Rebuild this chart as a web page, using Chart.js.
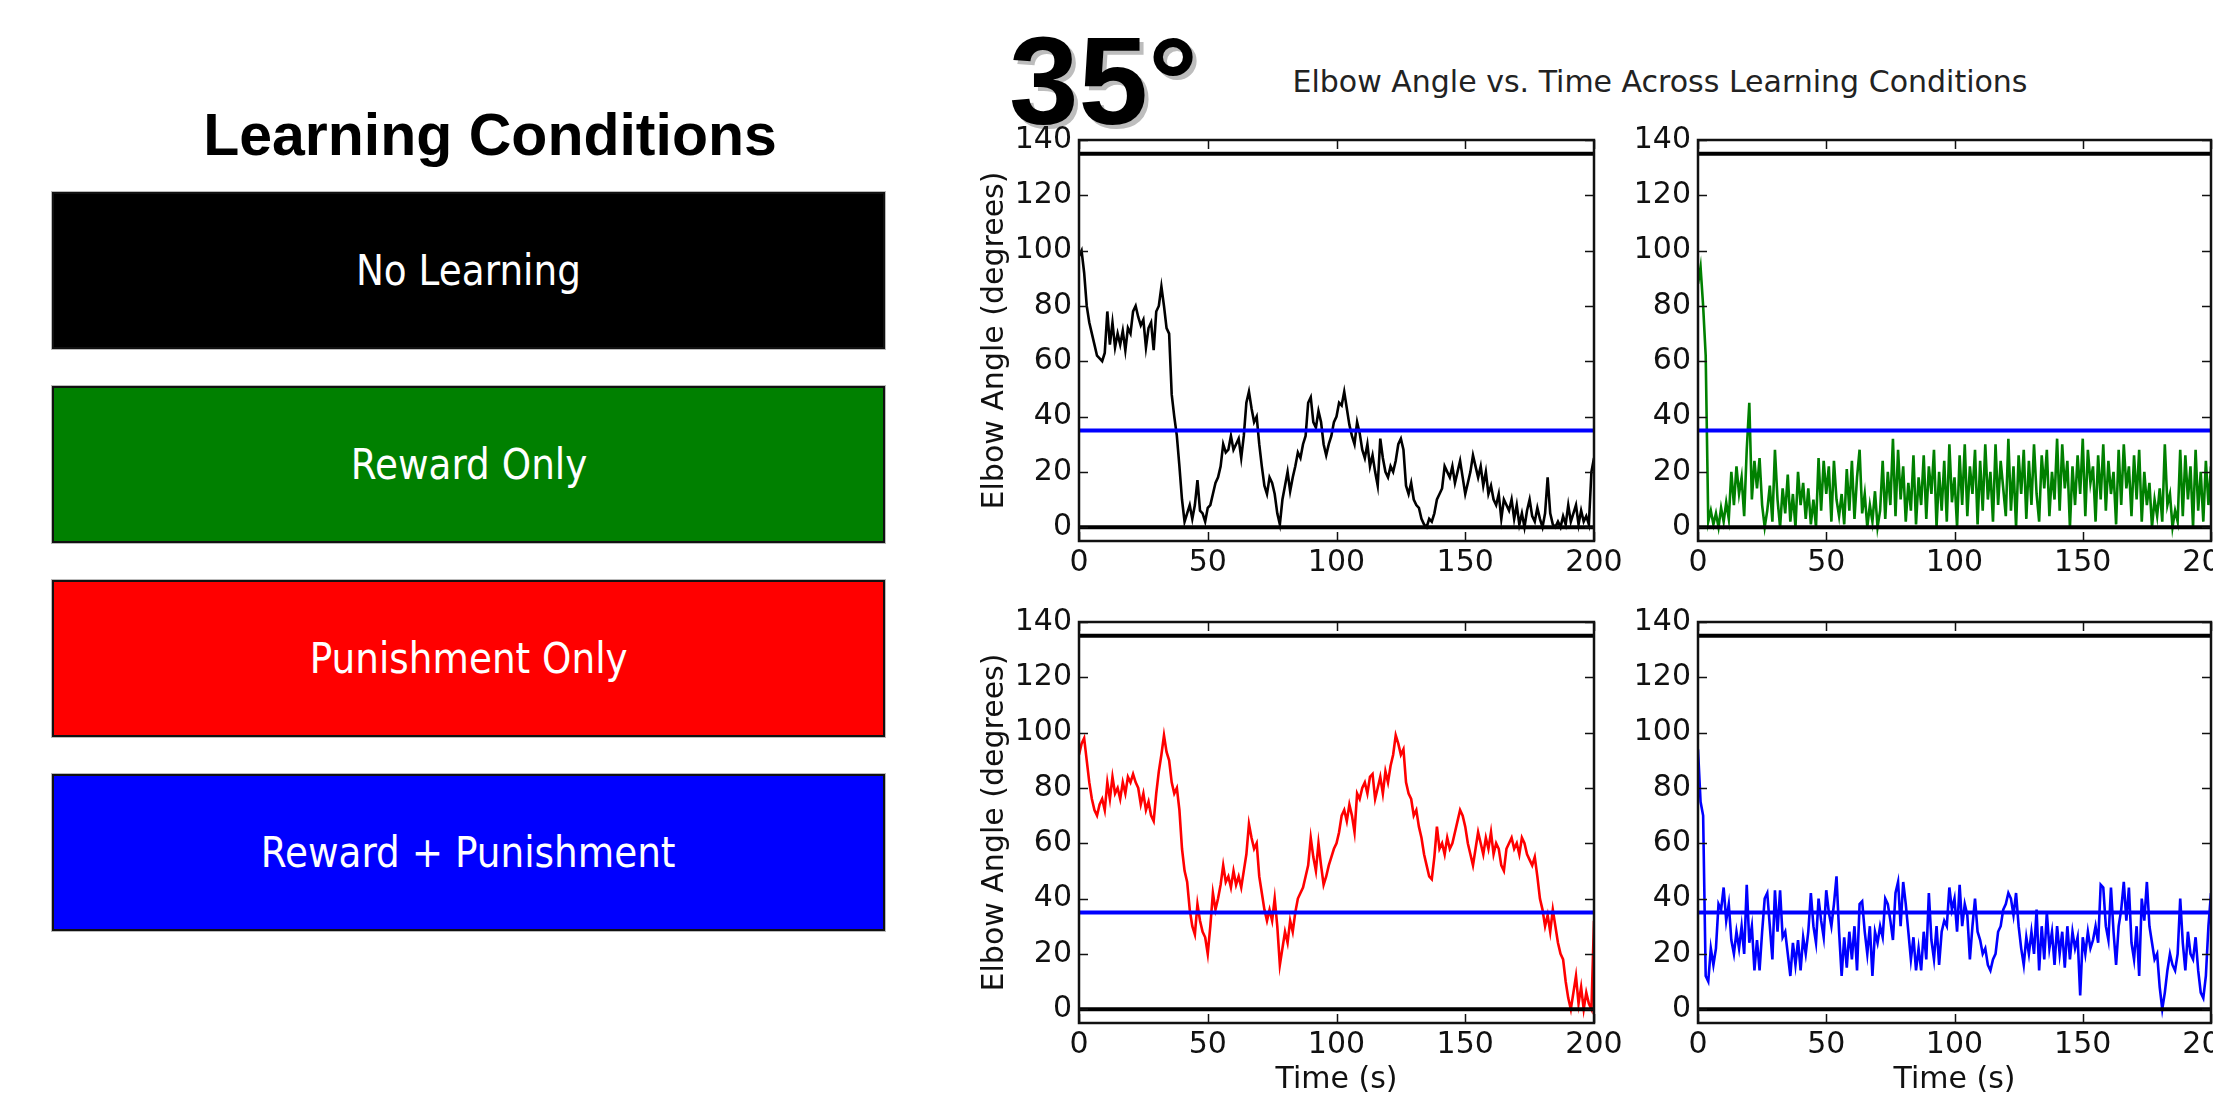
<!DOCTYPE html>
<html>
<head>
<meta charset="utf-8">
<title>Elbow Angle vs. Time Across Learning Conditions</title>
<script src="https://cdn.jsdelivr.net/npm/chart.js@4.4.1/dist/chart.umd.min.js"></script>
<style>
  html, body { margin: 0; padding: 0; background: #fff; }
  body { width: 2213px; height: 1095px; position: relative; overflow: hidden; }
  .abs { position: absolute; }
  #legendTitle {
    left: 0; width: 980px; top: 106px; text-align: center;
    font: bold 59px "Liberation Sans", Arial, sans-serif; line-height: 59px; color: #000;
  }
  .condition {
    position: absolute; left: 52px; width: 833px; height: 157px; box-sizing: border-box;
    border: 2px solid #111; box-shadow: 0 0 0 1px #bbb;
    display: flex; align-items: center; justify-content: center;
  }
  .condition span {
    display: inline-block; color: #fff; font: 42px "DejaVu Sans", sans-serif;
    transform: scaleX(0.89); white-space: nowrap;
  }
  #target {
    left: 1009px; top: 18px; font: bold 125px "Liberation Sans", Arial, sans-serif;
    line-height: 125px; color: #000; text-shadow: 4px 4px 0 #bdbdbd;
  }
  #figTitle {
    left: 1160px; width: 1000px; top: 67px; text-align: center;
    font: 30px "DejaVu Sans", sans-serif; line-height: 30px; color: #222;
  }
  canvas { position: absolute; }
</style>
</head>
<body>
<div id="legendTitle" class="abs">Learning Conditions</div>
<div id="legend"></div>
<div id="target" class="abs">35°</div>
<div id="figTitle" class="abs">Elbow Angle vs. Time Across Learning Conditions</div>
<canvas id="c0" width="675" height="531" style="left:959px;top:110px"></canvas>
<canvas id="c1" width="673" height="531" style="left:1578px;top:110px"></canvas>
<canvas id="c2" width="675" height="531" style="left:959px;top:592px"></canvas>
<canvas id="c3" width="673" height="531" style="left:1578px;top:592px"></canvas>
<script>
// learning conditions and their colours
const conditions = ['No Learning', 'Reward Only', 'Punishment Only', 'Reward + Punishment'];
const condColours = ['#000000', '#008000', '#ff0000', '#0000ff'];

// axis ticks
const xTicks = [0, 50, 100, 150, 200];
const yTicks = [0, 20, 40, 60, 80, 100, 120, 140];
const xRange = [0, 200];
const yRange = [-5, 140];

// reference lines (degrees)
const targetAngle = 35;
const jointLimits = [0, 135];

// elbow angle, one reading per second, t = 0..200 s
const SAMPLE_STEP = 1;
const noLearning = [
  98,100,92,80,74,70,66,62,61,60,
  63,78,66,74,65,70,66,71,64,72,
  70,78,80,76,73,75,65,72,74,64,
  78,80,87,80,72,70,48,40,33,22,
  10,2,5,8,3,8,17,6,5,2,
  7,8,12,16,18,22,30,27,28,33,
  28,30,32,25,33,45,49,43,38,40,
  30,22,15,12,18,16,12,5,1,10,
  15,20,13,18,22,27,25,30,33,45,
  47,38,36,42,38,30,26,30,33,38,
  40,45,44,49,43,37,33,30,38,34,
  28,25,30,22,26,20,15,32,25,20,
  18,22,20,24,30,32,28,15,12,16,
  10,8,7,3,1,0,3,2,5,10,
  12,14,22,20,18,22,16,20,24,18,
  12,16,20,26,22,18,22,15,20,12,
  15,10,8,12,3,10,8,6,10,3,
  8,1,5,0,6,10,4,2,7,3,
  0,5,18,5,1,0,2,0,4,1,
  8,2,5,8,1,6,2,4,1,20,
  25
];
const rewardOnly = [
  88,94,80,62,2,6,1,5,0,7,
  2,9,3,20,8,22,12,18,4,28,
  45,10,24,14,25,8,0,6,15,2,
  28,10,0,14,5,19,2,12,0,20,
  8,16,3,14,1,10,0,25,6,24,
  12,22,2,24,10,4,12,1,21,6,
  24,3,18,28,5,12,0,8,2,13,
  0,6,24,3,20,8,32,4,28,10,
  22,2,16,6,26,1,18,8,26,3,
  22,12,28,0,20,6,24,2,30,9,
  18,0,26,8,30,4,22,12,28,1,
  24,6,30,10,20,2,30,8,24,14,
  4,32,6,22,0,26,12,28,3,24,
  8,30,12,2,26,14,28,4,20,10,
  32,6,30,14,24,0,22,8,26,12,
  32,4,28,16,22,2,26,10,30,6,
  24,12,20,1,28,8,30,14,22,4,
  26,10,28,2,20,8,16,0,10,4,
  14,2,30,8,12,0,6,2,28,4,
  26,10,22,0,28,6,20,2,24,8,
  22
];
const punishmentOnly = [
  92,96,98,90,82,76,72,70,74,76,
  72,82,76,84,78,80,76,82,78,84,
  82,85,82,80,74,78,72,75,70,68,
  78,86,92,99,93,90,82,78,80,72,
  58,50,46,36,30,27,38,32,28,26,
  20,30,42,36,40,45,52,46,48,44,
  50,45,48,44,50,56,67,62,58,60,
  48,42,36,32,36,32,40,30,16,22,
  28,24,32,28,35,40,42,44,48,52,
  62,55,50,60,52,45,48,52,55,58,
  60,64,70,72,68,74,70,64,78,76,
  80,82,78,84,85,76,80,84,78,86,
  82,88,92,99,96,92,94,82,78,76,
  70,72,66,62,56,52,48,47,55,66,
  58,60,56,62,58,60,64,68,72,70,
  66,60,56,52,58,64,60,56,62,58,
  64,56,60,58,52,50,58,60,62,58,
  60,56,62,60,56,54,52,55,48,40,
  36,30,34,28,36,30,24,20,18,10,
  4,0,6,12,2,8,0,6,2,0,
  32
];
const rewardPunishment = [
  94,75,70,12,10,22,16,22,38,36,
  44,32,38,25,20,28,22,30,20,45,
  24,30,14,25,14,28,40,42,30,18,
  43,28,43,26,28,20,12,24,16,25,
  14,26,20,28,42,30,24,40,32,26,
  43,35,30,38,48,28,12,26,15,28,
  18,30,14,38,39,28,20,30,12,28,
  24,30,26,40,38,32,25,42,46,30,
  46,38,28,18,26,14,22,14,28,18,
  42,25,18,30,16,28,32,30,44,36,
  40,28,45,30,38,34,18,30,40,28,
  25,20,22,16,14,18,20,28,30,36,
  38,42,40,34,42,30,22,16,26,20,
  28,20,36,14,30,18,35,22,28,16,
  30,20,28,15,30,18,28,22,26,5,
  26,20,28,22,25,30,24,45,44,30,
  25,44,28,16,30,36,46,32,44,24,
  18,30,12,40,32,46,30,24,18,20,
  8,0,6,14,20,16,14,20,40,24,
  14,28,20,18,26,14,6,4,12,30,
  42
];

// legend boxes on the left
const boxTops = [192, 386, 580, 774];
const legend = document.getElementById('legend');
conditions.forEach((name, i) => {
  const div = document.createElement('div');
  div.className = 'condition';
  div.style.top = boxTops[i] + 'px';
  div.style.background = condColours[i];
  div.innerHTML = '<span>' + name + '</span>';
  legend.appendChild(div);
});

const FONT = { family: '"DejaVu Sans", sans-serif', size: 30 };
const INK = '#111';

// axes frame with inward ticks on all four sides, like the original plots
const framePlugin = {
  id: 'frame',
  afterDatasetsDraw(chart) {
    const { ctx, chartArea: a, scales: { x, y } } = chart;
    ctx.save();
    ctx.strokeStyle = '#111';
    ctx.lineWidth = 1.5;
    ctx.beginPath();
    xTicks.forEach(v => {
      const px = Math.round(x.getPixelForValue(v)) + 0.5;
      ctx.moveTo(px, a.top); ctx.lineTo(px, a.top + 9);
      ctx.moveTo(px, a.bottom); ctx.lineTo(px, a.bottom - 9);
    });
    yTicks.forEach(v => {
      const py = Math.round(y.getPixelForValue(v)) + 0.5;
      ctx.moveTo(a.left, py); ctx.lineTo(a.left + 9, py);
      ctx.moveTo(a.right, py); ctx.lineTo(a.right - 9, py);
    });
    ctx.stroke();
    ctx.lineWidth = 2.5;
    ctx.strokeRect(a.left, a.top, a.right - a.left, a.bottom - a.top);
    ctx.restore();
  }
};

function hLine(value, colour) {
  return {
    data: [{ x: xRange[0], y: value }, { x: xRange[1], y: value }],
    borderColor: colour, borderWidth: 4, pointRadius: 0
  };
}

function fixedAxis(size, horizontal) {
  return function (scale) {
    if (horizontal) scale.height = size; else scale.width = size;
    scale.paddingLeft = scale.paddingRight = scale.paddingTop = scale.paddingBottom = 0;
  };
}

function makeChart(id, values, colour, showYTitle, showXTitle) {
  return new Chart(document.getElementById(id), {
    type: 'line',
    data: {
      datasets: [
        hLine(targetAngle, '#0000ff'),
        hLine(jointLimits[0], '#000000'),
        hLine(jointLimits[1], '#000000'),
        {
          data: values.map((v, i) => ({ x: i * SAMPLE_STEP, y: v })),
          borderColor: colour, borderWidth: 2.6, pointRadius: 0, tension: 0
        }
      ]
    },
    options: {
      responsive: false,
      animation: false,
      events: [],
      layout: { padding: { left: 0, top: 30, right: 40, bottom: 0 } },
      plugins: { legend: { display: false }, tooltip: { enabled: false } },
      scales: {
        x: {
          type: 'linear', min: xRange[0], max: xRange[1],
          grid: { display: false, drawTicks: false },
          border: { display: false },
          afterBuildTicks: s => { s.ticks = xTicks.map(v => ({ value: v })); },
          afterFit: fixedAxis(100, true),
          ticks: { font: FONT, color: INK, padding: 4, maxRotation: 0, autoSkip: false },
          title: { display: showXTitle, text: 'Time (s)', font: FONT, color: INK, padding: { top: 0, bottom: 25 } }
        },
        y: {
          type: 'linear', min: yRange[0], max: yRange[1],
          grid: { display: false, drawTicks: false },
          border: { display: false },
          afterBuildTicks: s => { s.ticks = yTicks.map(v => ({ value: v })); },
          afterFit: fixedAxis(120, false),
          ticks: { font: FONT, color: INK, padding: 7, autoSkip: false },
          title: { display: showYTitle, text: 'Elbow Angle (degrees)', font: FONT, color: INK, padding: { top: 18, bottom: 0 } }
        }
      }
    },
    plugins: [framePlugin]
  });
}

makeChart('c0', noLearning, condColours[0], true, false);
makeChart('c1', rewardOnly, condColours[1], false, false);
makeChart('c2', punishmentOnly, condColours[2], true, true);
makeChart('c3', rewardPunishment, condColours[3], false, true);
</script>
</body>
</html>
